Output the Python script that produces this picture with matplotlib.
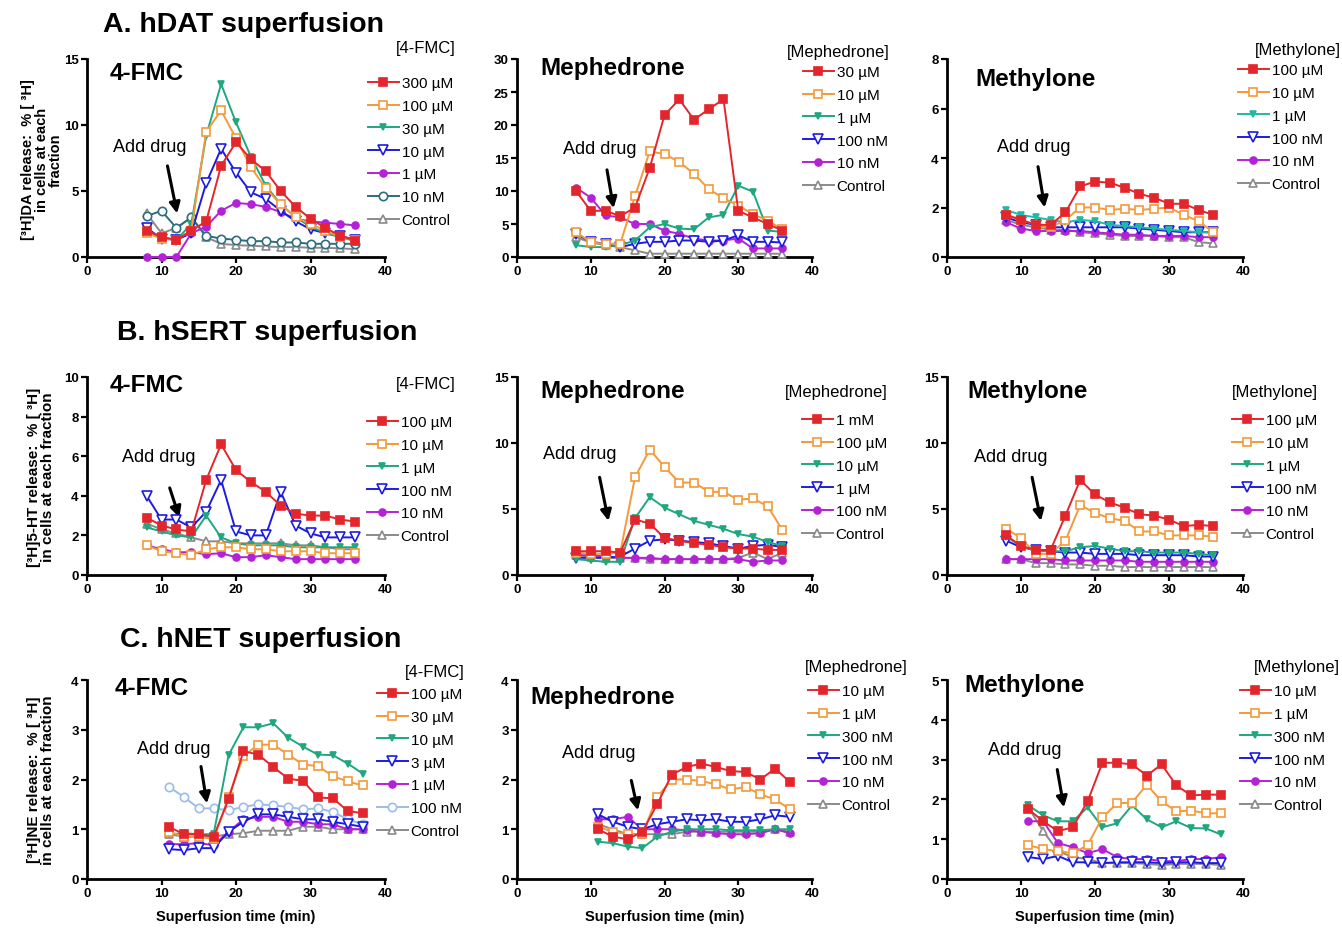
import numpy as np
import matplotlib
matplotlib.use('Agg')
import matplotlib.pyplot as plt

plt.rcParams['font.family'] = ['Liberation Sans', 'DejaVu Sans']

#%% Data
x_ab = [8, 10, 12, 14, 16, 18, 20, 22, 24, 26, 28, 30, 32, 34, 36]
x_c = [11, 13, 15, 17, 19, 21, 23, 25, 27, 29, 31, 33, 35, 37]

# A. hDAT
a_fmc_labels = ['300 µM', '100 µM', '30 µM', '10 µM', '1 µM', '10 nM', 'Control']
a_fmc_vals = [
    [2.0, 1.5, 1.3, 2.0, 2.7, 6.9, 8.7, 7.4, 6.5, 5.0, 3.8, 2.9, 2.2, 1.6, 1.25],
    [1.8, 1.4, 1.3, 2.0, 9.5, 11.1, 9.0, 6.8, 5.2, 4.0, 3.0, 2.5, 2.0, 1.5, 1.3],
    [2.0, 1.5, 1.3, 2.5, 9.2, 13.1, 10.2, 7.6, 5.4, 4.0, 3.0, 2.3, 1.8, 1.5, 1.2],
    [2.2, 1.4, 1.3, 1.8, 5.6, 8.2, 6.4, 4.9, 4.4, 3.5, 2.7, 2.1, 1.8, 1.6, 1.3],
    [0.0, 0.0, 0.0, 1.8, 2.3, 3.5, 4.1, 4.0, 3.8, 3.4, 2.9, 2.7, 2.6, 2.5, 2.4],
    [3.1, 3.5, 2.2, 3.0, 1.6, 1.4, 1.3, 1.2, 1.2, 1.1, 1.1, 1.0, 1.0, 1.0, 1.0],
    [3.3, 1.8, 2.2, 3.0, 1.5, 1.0, 0.9, 0.85, 0.8, 0.75, 0.75, 0.7, 0.7, 0.65, 0.6],
]
a_mep_labels = ['30 µM', '10 µM', '1 µM', '100 nM', '10 nM', 'Control']
a_mep_vals = [
    [10.0, 7.0, 7.0, 6.2, 7.5, 13.5, 21.5, 23.9, 20.8, 22.4, 23.9, 7.0, 6.0, 5.0, 4.0],
    [3.8, 2.2, 2.0, 2.0, 9.2, 16.0, 15.6, 14.4, 12.6, 10.3, 8.9, 7.8, 6.5, 5.5, 4.2],
    [1.8, 1.5, 1.5, 1.8, 2.5, 4.5, 5.0, 4.3, 4.2, 6.0, 6.4, 10.8, 9.9, 4.0, 3.8],
    [3.5, 2.3, 2.0, 1.5, 2.0, 2.3, 2.3, 2.5, 2.5, 2.3, 2.5, 3.3, 2.3, 2.3, 2.2],
    [10.5, 9.0, 6.3, 6.0, 5.0, 5.0, 4.0, 3.5, 2.8, 2.5, 2.5, 2.8, 1.3, 1.3, 1.3],
    [3.0, 2.2, 1.8, 1.5, 1.0, 0.5, 0.5, 0.5, 0.5, 0.5, 0.5, 0.5, 0.5, 0.5, 0.5],
]
a_mdy_labels = ['100 µM', '10 µM', '1 µM', '100 nM', '10 nM', 'Control']
a_mdy_vals = [
    [1.7, 1.5, 1.3, 1.3, 1.8, 2.85, 3.05, 3.0, 2.8, 2.55, 2.4, 2.15, 2.15, 1.9, 1.7],
    [1.7, 1.5, 1.3, 1.2, 1.5, 2.0, 2.0, 1.9, 1.95, 1.9, 1.95, 2.0, 1.7, 1.45, 1.0],
    [1.9, 1.7, 1.6, 1.5, 1.4, 1.5, 1.45, 1.3, 1.25, 1.2, 1.15, 1.1, 1.05, 1.0, 1.0],
    [1.6, 1.4, 1.3, 1.2, 1.2, 1.2, 1.2, 1.2, 1.2, 1.15, 1.1, 1.05, 1.0, 1.0, 1.0],
    [1.4, 1.15, 1.05, 1.05, 1.05, 1.05, 1.0, 0.95, 0.9, 0.9, 0.85, 0.85, 0.85, 0.8, 0.8],
    [1.5, 1.3, 1.2, 1.1, 1.1, 1.0, 0.95, 0.9, 0.85, 0.85, 0.85, 0.8, 0.8, 0.6, 0.55],
]

# B. hSERT
b_fmc_labels = ['100 µM', '10 µM', '1 µM', '100 nM', '10 nM', 'Control']
b_fmc_vals = [
    [2.9, 2.5, 2.3, 2.2, 4.8, 6.6, 5.3, 4.7, 4.2, 3.5, 3.1, 3.0, 3.0, 2.8, 2.7],
    [1.5, 1.2, 1.1, 1.0, 1.3, 1.4, 1.4, 1.3, 1.3, 1.2, 1.2, 1.2, 1.1, 1.1, 1.1],
    [2.4, 2.2, 2.0, 1.9, 3.0, 1.9, 1.6, 1.5, 1.5, 1.5, 1.4, 1.4, 1.4, 1.4, 1.4],
    [4.0, 2.8, 2.8, 2.4, 3.2, 4.8, 2.2, 2.0, 2.0, 4.2, 2.5, 2.1, 1.9, 1.9, 1.9],
    [1.5, 1.3, 1.15, 1.15, 1.05, 1.1, 0.9, 0.9, 1.0, 0.9, 0.8, 0.8, 0.8, 0.8, 0.8],
    [2.6, 2.3, 2.1, 1.9, 1.7, 1.7, 1.6, 1.6, 1.6, 1.6, 1.5, 1.5, 1.4, 1.3, 1.3],
]
b_mep_labels = ['1 mM', '100 µM', '10 µM', '1 µM', '100 nM', 'Control']
b_mep_vals = [
    [1.8, 1.8, 1.8, 1.7, 4.2, 3.9, 2.8, 2.6, 2.4, 2.3, 2.1, 2.0, 2.0, 1.9, 1.9],
    [1.7, 1.6, 1.6, 1.7, 7.4, 9.5, 8.2, 7.0, 7.0, 6.3, 6.3, 5.7, 5.8, 5.2, 3.4],
    [1.2, 1.1, 1.0, 1.0, 4.3, 5.9, 5.1, 4.6, 4.1, 3.8, 3.5, 3.1, 2.9, 2.5, 2.2],
    [1.3, 1.3, 1.3, 1.4, 2.0, 2.6, 2.7, 2.6, 2.5, 2.4, 2.2, 2.0, 2.2, 2.3, 2.1],
    [1.5, 1.5, 1.4, 1.3, 1.3, 1.3, 1.2, 1.2, 1.2, 1.2, 1.2, 1.2, 1.0, 1.1, 1.1],
    [1.5, 1.4, 1.3, 1.3, 1.3, 1.2, 1.2, 1.2, 1.2, 1.2, 1.2, 1.3, 1.7, 1.2, 1.7],
]
b_mdy_labels = ['100 µM', '10 µM', '1 µM', '100 nM', '10 nM', 'Control']
b_mdy_vals = [
    [3.0, 2.2, 1.9, 1.9, 4.5, 7.2, 6.1, 5.5, 5.1, 4.6, 4.5, 4.2, 3.7, 3.8, 3.7],
    [3.5, 2.8, 1.6, 1.6, 2.6, 5.3, 4.7, 4.3, 4.1, 3.3, 3.3, 3.0, 3.0, 3.0, 2.9],
    [2.9, 2.2, 1.8, 1.8, 1.8, 2.1, 2.2, 2.0, 1.8, 1.8, 1.7, 1.7, 1.7, 1.6, 1.5],
    [2.6, 2.1, 1.9, 1.8, 1.7, 1.7, 1.6, 1.6, 1.6, 1.5, 1.5, 1.5, 1.5, 1.4, 1.4],
    [1.2, 1.2, 1.2, 1.2, 1.1, 1.1, 1.1, 1.1, 1.1, 1.0, 1.0, 1.0, 1.0, 1.0, 1.0],
    [1.2, 1.2, 0.9, 0.9, 0.8, 0.8, 0.7, 0.7, 0.6, 0.6, 0.6, 0.6, 0.6, 0.6, 0.6],
]

# C. hNET
c_fmc_labels = ['100 µM', '30 µM', '10 µM', '3 µM', '1 µM', '100 nM', 'Control']
c_fmc_vals = [
    [1.05, 0.9, 0.9, 0.85, 1.6, 2.57, 2.5, 2.25, 2.02, 1.97, 1.64, 1.62, 1.37, 1.32],
    [0.95, 0.85, 0.85, 0.8, 1.65, 2.47, 2.7, 2.7, 2.5, 2.3, 2.27, 2.07, 1.96, 1.88],
    [0.9, 0.92, 0.9, 0.9, 2.49, 3.05, 3.05, 3.13, 2.84, 2.66, 2.5, 2.49, 2.32, 2.12],
    [0.6, 0.58, 0.62, 0.62, 0.95, 1.15, 1.3, 1.3, 1.25, 1.2, 1.2, 1.15, 1.1, 1.05],
    [0.7, 0.7, 0.72, 0.68, 0.95, 1.2, 1.25, 1.25, 1.15, 1.15, 1.1, 1.1, 1.0, 1.0],
    [1.85, 1.65, 1.42, 1.42, 1.38, 1.45, 1.5, 1.48, 1.45, 1.4, 1.42, 1.35, 1.2, 1.1],
    [0.9, 0.85, 0.85, 0.85, 0.9, 0.92, 0.97, 0.97, 0.97, 1.05, 1.05, 1.0, 1.0, 1.0],
]
c_mep_labels = ['10 µM', '1 µM', '300 nM', '100 nM', '10 nM', 'Control']
c_mep_vals = [
    [1.0, 0.85, 0.8, 0.95, 1.5, 2.1, 2.25, 2.32, 2.25, 2.17, 2.15, 2.0, 2.22, 1.95],
    [1.05, 0.95, 0.9, 0.9, 1.65, 2.0, 2.0, 1.97, 1.9, 1.8, 1.85, 1.7, 1.6, 1.4],
    [0.75, 0.72, 0.65, 0.62, 0.85, 0.95, 1.0, 1.0, 1.0, 0.98, 0.98, 0.98, 1.0, 1.0],
    [1.3, 1.15, 1.05, 1.0, 1.1, 1.15, 1.2, 1.18, 1.2, 1.15, 1.15, 1.2, 1.28, 1.25],
    [1.2, 1.2, 1.25, 1.0, 1.0, 1.0, 0.98, 0.95, 0.92, 0.9, 0.9, 0.92, 1.0, 0.92],
    [1.1, 1.0, 0.9, 0.9, 0.9, 0.9, 0.95, 0.95, 0.95, 0.95, 0.95, 0.95, 1.0, 0.95],
]
c_mdy_labels = ['10 µM', '1 µM', '300 nM', '100 nM', '10 nM', 'Control']
c_mdy_vals = [
    [1.75, 1.45, 1.2, 1.3, 1.95, 2.92, 2.92, 2.88, 2.6, 2.88, 2.35, 2.1, 2.12, 2.12],
    [0.85, 0.75, 0.7, 0.65, 0.85, 1.55, 1.9, 1.92, 2.37, 1.95, 1.7, 1.72, 1.65, 1.65],
    [1.85, 1.6, 1.45, 1.45, 1.8, 1.3, 1.4, 1.85, 1.5, 1.3, 1.45, 1.28, 1.27, 1.12],
    [0.55, 0.5, 0.58, 0.42, 0.42, 0.4, 0.42, 0.42, 0.42, 0.4, 0.42, 0.42, 0.4, 0.4],
    [1.45, 1.45, 0.9, 0.8, 0.65, 0.75, 0.55, 0.5, 0.5, 0.45, 0.45, 0.5, 0.5, 0.55],
    [1.8, 1.2, 0.7, 0.55, 0.5, 0.4, 0.4, 0.4, 0.38, 0.35, 0.38, 0.38, 0.38, 0.35],
]

#%% Styles
sty = {
    'red': dict(color='#e3262b', marker='s', mfc='#e3262b', ms=6),
    'orange': dict(color='#f39a3a', marker='s', mfc='white', ms=6),
    'green': dict(color='#1fa77f', marker='v', mfc='#1fa77f', ms=5),
    'cyan': dict(color='#22b8a8', marker='v', mfc='#22b8a8', ms=5),
    'blue': dict(color='#1c1ce0', marker='v', mfc='white', ms=6.5),
    'purple': dict(color='#b422d6', marker='o', mfc='#b422d6', ms=5),
    'teal': dict(color='#2d6e7e', marker='o', mfc='white', ms=6),
    'ltblue': dict(color='#9bbde8', marker='o', mfc='white', ms=6),
    'ctrl': dict(color='#8a8a8a', marker='^', mfc='white', ms=5.5),
}
six = ['red', 'orange', 'green', 'blue', 'purple', 'ctrl']

W, H = 1342, 929
fig = plt.figure(figsize=(W / 100, H / 100), dpi=100)

def fx(px):
    return px / W

def fy(py):
    return 1 - py / H

def panel(box, x, labels, vals, keys, ymax, ystep, name, name_xy, drug_xy, arrow, leg_title, title_xy, leg_xy):
    left, top, right, bottom = box
    ax = fig.add_axes([fx(left), fy(bottom), (right - left) / W, (bottom - top) / H])
    handles = []
    for lab, v, k in zip(labels, vals, keys):
        ln, = ax.plot(x, v, lw=1.4, mew=1.2, clip_on=False, label=lab, **sty[k])
        handles.append(ln)
    # first series drawn on top
    for i, ln in enumerate(handles):
        ln.set_zorder(10 - i)
    ax.set_xlim(0, 40)
    ax.set_ylim(0, ymax)
    ax.set_xticks([0, 10, 20, 30, 40])
    ax.set_yticks(np.arange(0, ymax + 0.01, ystep))
    ax.yaxis.set_major_formatter(plt.FormatStrFormatter('%g'))
    for s in ['top', 'right']:
        ax.spines[s].set_visible(False)
    for s in ['left', 'bottom']:
        ax.spines[s].set_linewidth(2)
    ax.tick_params(direction='out', length=4, width=1.6, labelsize=9.5, pad=2)
    plt.setp(ax.get_xticklabels() + ax.get_yticklabels(), fontweight='bold')
    ax.patch.set_alpha(0)
    ax.text(name_xy[0], name_xy[1], name, transform=ax.transAxes, fontsize=17.5,
            fontweight='bold', ha='left', va='center')
    ax.text(drug_xy[0], drug_xy[1], 'Add drug', fontsize=13, ha='left', va='center')
    ax.annotate('', xy=arrow[1], xytext=arrow[0],
                arrowprops=dict(arrowstyle='-|>', color='black', lw=2.2,
                                mutation_scale=16, shrinkA=0, shrinkB=0))
    fig.text(fx(title_xy[0]), fy(title_xy[1]), leg_title, fontsize=12, ha='right', va='center')
    ax.legend(handles=handles, loc='upper left', bbox_to_anchor=(fx(leg_xy[0]), fy(leg_xy[1])),
              bbox_transform=fig.transFigure, frameon=False, fontsize=11,
              handlelength=2.0, handletextpad=0.2, labelspacing=0.58,
              borderpad=0, borderaxespad=0)
    return ax

rowA = (60, 258)
rowB = (378, 576)
rowC = (681, 880)
cols = [(87, 385), (517, 812), (947, 1243)]

def box(c, r):
    return (cols[c][0], r[0], cols[c][1], r[1])

panel(box(0, rowA), x_ab, a_fmc_labels, a_fmc_vals,
      ['red', 'orange', 'green', 'blue', 'purple', 'teal', 'ctrl'], 15, 5,
      '4-FMC', (0.077, 0.93), (3.5, 8.4), ((10.8, 6.9), (12.1, 3.3)),
      '[4-FMC]', (456, 48), (368, 77))
panel(box(1, rowA), x_ab, a_mep_labels, a_mep_vals, six, 30, 5,
      'Mephedrone', (0.078, 0.955), (6.2, 16.4), ((12.2, 13.2), (13.1, 7.4)),
      '[Mephedrone]', (890, 52), (803, 66))
panel(box(2, rowA), x_ab, a_mdy_labels, a_mdy_vals,
      ['red', 'orange', 'cyan', 'blue', 'purple', 'ctrl'], 8, 2,
      'Methylone', (0.095, 0.9), (6.8, 4.45), ((12.3, 3.65), (13.2, 2.0)),
      '[Methylone]', (1341, 50), (1238, 64))

panel(box(0, rowB), x_ab, b_fmc_labels, b_fmc_vals, six, 10, 2,
      '4-FMC', (0.077, 0.96), (4.7, 6.0), ((11.1, 4.4), (12.4, 2.9)),
      '[4-FMC]', (456, 385), (367, 416))
panel(box(1, rowB), x_ab, b_mep_labels, b_mep_vals, six, 15, 5,
      'Mephedrone', (0.078, 0.93), (3.5, 9.2), ((11.2, 7.4), (12.4, 4.1)),
      '[Mephedrone]', (888, 393), (802, 414))
panel(box(2, rowB), x_ab, b_mdy_labels, b_mdy_vals, six, 15, 5,
      'Methylone', (0.07, 0.93), (3.6, 9.0), ((11.5, 7.4), (12.7, 4.1)),
      '[Methylone]', (1318, 393), (1232, 414))

panel(box(0, rowC), x_c, c_fmc_labels, c_fmc_vals,
      ['red', 'orange', 'green', 'blue', 'purple', 'ltblue', 'ctrl'], 4, 1,
      '4-FMC', (0.093, 0.96), (6.7, 2.62), ((15.3, 2.26), (16.1, 1.52)),
      '[4-FMC]', (465, 672), (377, 688))
panel(box(1, rowC), x_c, c_mep_labels, c_mep_vals, six, 4, 1,
      'Mephedrone', (0.044, 0.915), (6.1, 2.54), ((15.5, 1.98), (16.4, 1.38)),
      '[Mephedrone]', (908, 668), (808, 685))
panel(box(2, rowC), x_c, c_mdy_labels, c_mdy_vals, six, 5, 1,
      'Methylone', (0.06, 0.975), (5.5, 3.25), ((14.9, 2.75), (15.8, 1.8)),
      '[Methylone]', (1340, 668), (1240, 685))

#%% Section titles and axis labels
fig.text(fx(103), fy(25), 'A. hDAT superfusion', fontsize=20.5, fontweight='bold', ha='left', va='center')
fig.text(fx(117), fy(333), 'B. hSERT superfusion', fontsize=20.5, fontweight='bold', ha='left', va='center')
fig.text(fx(120), fy(640), 'C. hNET superfusion', fontsize=20.5, fontweight='bold', ha='left', va='center')

fig.text(fx(42), fy(160), '[³H]DA release:  % [ ³H]\nin cells at each\nfraction',
         rotation=90, fontsize=10.5, fontweight='bold', ha='center', va='center', linespacing=1.0)
fig.text(fx(41), fy(477), '[³H]5-HT release:  % [ ³H]\nin cells at each fraction',
         rotation=90, fontsize=11, fontweight='bold', ha='center', va='center', linespacing=1.05)
fig.text(fx(41), fy(780), '[³H]NE release:  % [ ³H]\nin cells at each fraction',
         rotation=90, fontsize=11, fontweight='bold', ha='center', va='center', linespacing=1.05)

for cx in [236, 665, 1095]:
    fig.text(fx(cx), fy(917), 'Superfusion time (min)', fontsize=10.5, fontweight='bold',
             ha='center', va='center')

fig.savefig('out.png', dpi=100)
